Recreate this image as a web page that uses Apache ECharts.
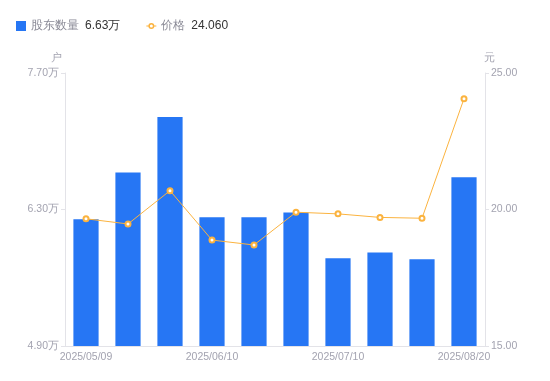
<!DOCTYPE html>
<html>
<head>
<meta charset="utf-8">
<script src="https://cdn.jsdelivr.net/npm/echarts@6/dist/echarts.min.js"></script>
<style>html,body{margin:0;padding:0;background:#fff}#c{width:550px;height:381px}</style>
</head>
<body>
<div id="c"></div>
<script>
const categories = ['2025/05/09','2025/05/20','2025/05/30','2025/06/10','2025/06/20','2025/06/30','2025/07/10','2025/07/20','2025/07/31','2025/08/20'];
const holders = [6.20, 6.68, 7.25, 6.22, 6.22, 6.27, 5.80, 5.86, 5.79, 6.63];
const prices = [19.66, 19.47, 20.69, 18.88, 18.70, 19.90, 19.84, 19.71, 19.68, 24.06];
const leftTicks = [4.90, 6.30, 7.70];
const rightTicks = [15, 20, 25];

const lineIcon = 'path://M0,4.5 L3,4.5 L3,5.5 L0,5.5 Z M7,4.5 L10,4.5 L10,5.5 L7,5.5 Z ' +
  'M2,5 A3,3 0 1,1 8,5 A3,3 0 1,1 2,5 Z M3.5,5 A1.5,1.5 0 1,0 6.5,5 A1.5,1.5 0 1,0 3.5,5 Z';

const chart = echarts.init(document.getElementById('c'));
const labelColor = '#a3a3b0';
const lineColor = '#e3e3e8';
chart.setOption({
  animation: false,
  legend: {
    left: 11, top: 15,
    itemWidth: 10, itemHeight: 10, itemGap: 26,
    textStyle: {fontSize: 12, color: '#8a8a96', rich: {v: {color: '#333', fontSize: 12, padding: [0,0,0,6]}}},
    formatter: function(name){
      if (name === '股东数量') return name + '{v|' + holders[holders.length-1].toFixed(2) + '万}';
      return name + '{v|' + prices[prices.length-1].toFixed(3) + '}';
    },
    data: [
      {name:'股东数量', icon:'rect'},
      {name:'价格', icon: lineIcon, itemStyle: {color: '#fbb33f', borderWidth: 0}}
    ]
  },
  grid: {left: 65, right: 65, top: 73, bottom: 35},
  xAxis: {
    type: 'category', data: categories,
    axisLine: {lineStyle: {color: lineColor}},
    axisTick: {show: false},
    axisLabel: {color: labelColor, fontSize: 10.5, interval: 2, margin: 6}
  },
  yAxis: [{
    type: 'value', name: '户', min: leftTicks[0], max: leftTicks[2], interval: 1.4,
    nameTextStyle: {color: labelColor, fontSize: 11, padding: [0, 17, 0, 0]},
    nameGap: 10,
    axisLine: {show: true, lineStyle: {color: lineColor}},
    axisTick: {show: true, length: 4, lineStyle: {color: lineColor}},
    splitLine: {show: false},
    axisLabel: {color: labelColor, fontSize: 10.5, margin: 6, formatter: v => v.toFixed(2) + '万'}
  }, {
    type: 'value', name: '元', min: rightTicks[0], max: rightTicks[2], interval: 5,
    nameTextStyle: {color: labelColor, fontSize: 11, padding: [0, 0, 0, 8]},
    nameGap: 10,
    axisLine: {show: true, lineStyle: {color: lineColor}},
    axisTick: {show: true, length: 4, lineStyle: {color: lineColor}},
    splitLine: {show: false},
    axisLabel: {color: labelColor, fontSize: 10.5, margin: 6, formatter: v => v.toFixed(2)}
  }],
  series: [{
    name: '股东数量', type: 'bar', data: holders, barWidth: '60%',
    itemStyle: {color: '#2676f4'}
  }, {
    name: '价格', type: 'line', yAxisIndex: 1, data: prices,
    symbol: 'emptyCircle', symbolSize: 5,
    lineStyle: {width: 1, color: '#fbb33f'},
    itemStyle: {color: '#fbb33f', borderWidth: 2}
  }]
});
</script>
</body>
</html>
